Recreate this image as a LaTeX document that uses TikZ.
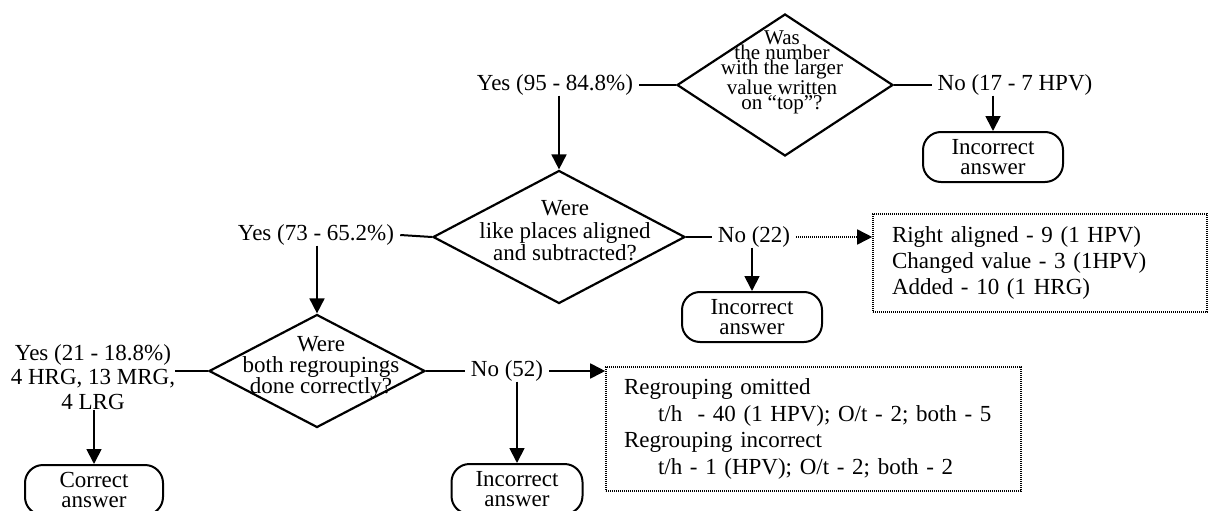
\documentclass[tikz,border=0pt]{standalone}
\usepackage{fontspec}
\setmainfont{Liberation Serif}
\usetikzlibrary{arrows.meta,shapes.geometric}
\begin{document}
\begin{tikzpicture}[x=1pt,y=-1pt,
  base/.style={font=\fontsize{23}{25}\selectfont, inner sep=0pt},
  lbl/.style={base, inner xsep=6pt},
  decision/.style={draw, diamond, line width=2.2pt, inner sep=0pt},
  qtext/.style={base, align=center},
  term/.style={draw, line width=2pt, rounded corners=18pt, minimum height=50pt, align=center, font=\fontsize{23}{19.5}\selectfont, inner sep=0pt},
  note/.style={draw, line width=1.6pt, dash pattern=on 1.2pt off 0.8pt, align=left, inner ysep=0pt},
  conn/.style={line width=2pt},
  arr/.style={line width=1.8pt, -{Triangle[width=15pt,length=15pt]}},
  darr/.style={line width=1.6pt, dash pattern=on 1.2pt off 0.8pt, -{Triangle[width=15pt,length=15pt]}},
]
\useasboundingbox (0,0) rectangle (1208,511);

% decisions
\node[decision, minimum width=216pt, minimum height=142pt] (d1) at (785,85) {};
\node[qtext, font=\fontsize{21}{15}\selectfont] (q1) at (782,72) {Was\\the number\\with the larger\\value written\\on “top”?};
\node[decision, minimum width=252pt, minimum height=133pt] (d2) at (559,237) {};
\node[qtext, font=\fontsize{23}{22.5}\selectfont] (q2) at (565,231) {Were\\like places aligned\\and subtracted?};
\node[decision, minimum width=216pt, minimum height=113pt] (d3) at (317,371) {};
\node[qtext, font=\fontsize{23}{21}\selectfont] (q3) at (321,367) {Were\\both regroupings\\done correctly?};

% labels
\node[lbl] (y1) at (555,85) {Yes (95 - 84.8\%)};
\node[lbl] (n1) at (1015,85) {No (17 - 7 HPV)};
\node[lbl] (y2) at (316,235) {Yes (73 - 65.2\%)};
\node[lbl] (n2) at (754,237) {No (22)};
\node[lbl, align=center, inner xsep=0pt, font=\fontsize{23}{24.5}\selectfont] (y3) at (93,377) {Yes (21 - 18.8\%)\\4 HRG, 13 MRG,\\4 LRG};
\node[lbl] (n3) at (507,371) {No (52)};

% terminals
\node[term, minimum width=140pt] (b1) at (993,157) {Incorrect\\answer};
\node[term, minimum width=140pt] (b2) at (752,317) {Incorrect\\answer};
\node[term, minimum width=138pt] (c1) at (94,490) {Correct\\answer};
\node[term, minimum width=131pt] (b3) at (517,489) {Incorrect\\answer};

% notes
\node[note, font=\fontsize{23}{26}\selectfont, inner xsep=19pt, text width=296pt, minimum height=98pt] (r1) at (1040,263)
  {Right aligned - 9 (1 HPV)\\Changed value - 3 (1HPV)\\Added - 10 (1 HRG)};
\node[note, font=\fontsize{23}{26.5}\selectfont, inner xsep=18pt, text width=379pt, minimum height=124pt] (r2) at (813.5,429)
  {Regrouping omitted\\\hspace*{34pt}t/h~ - 40 (1 HPV); O/t - 2; both - 5\\Regrouping incorrect\\\hspace*{34pt}t/h - 1 (HPV); O/t - 2; both - 2};

% connectors
\draw[conn] (d1.west) -- (y1.east);
\draw[conn] (d1.east) -- (n1.west);
\draw[arr] (d2.north |- y1.south) -- (d2.north);
\draw[arr] (b1.north |- n1.south) -- (b1.north);
\draw[conn] (d2.west) -- (y2.east);
\draw[conn] (d2.east) -- (n2.west);
\draw[darr] (n2.east) -- (n2.east -| r1.west);
\draw[arr] (b2.north |- n2.south) -- (b2.north);
\draw[arr] (d3.north |- y2.south) -- (d3.north);
\draw[conn] (d3.west) -- (d3.west -| y3.east);
\draw[arr] (c1.north |- y3.south) -- (c1.north);
\draw[conn] (d3.east) -- (n3.west);
\draw[arr] (n3.east) -- (n3.east -| r2.west);
\draw[arr] (b3.north |- n3.south) -- (b3.north);
\end{tikzpicture}
\end{document}
